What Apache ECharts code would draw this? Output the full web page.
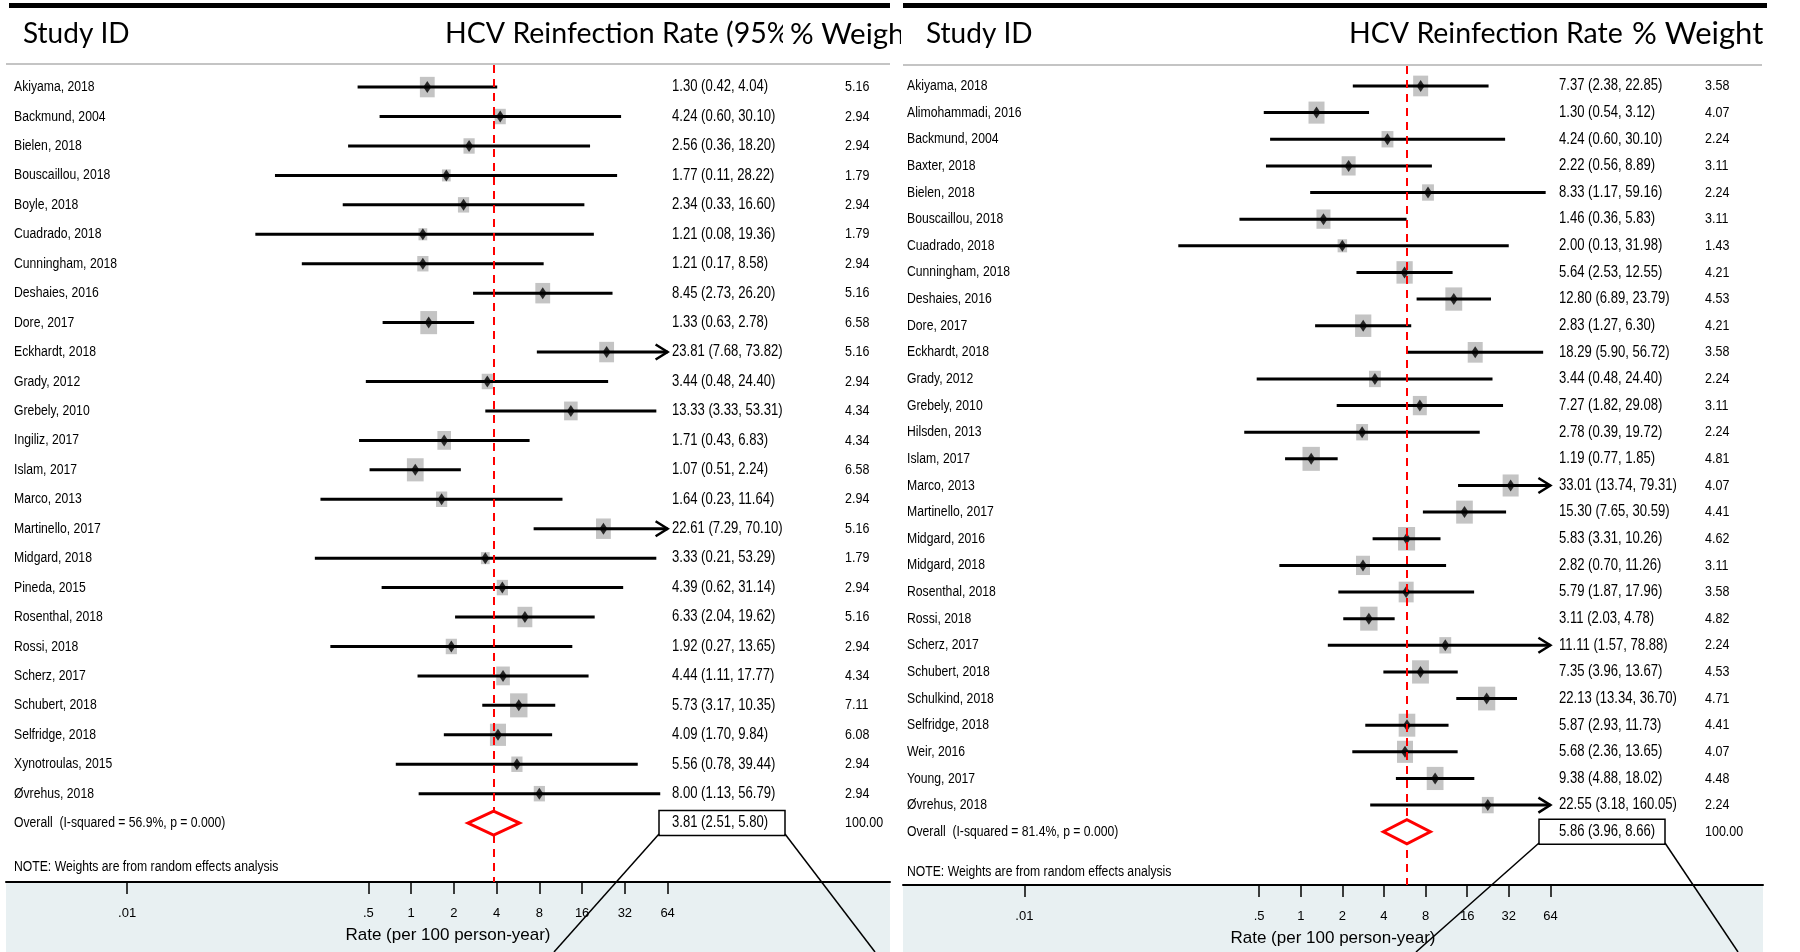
<!DOCTYPE html>
<html><head><meta charset="utf-8">
<script src="https://cdn.jsdelivr.net/npm/echarts@6/dist/echarts.min.js"></script>
<style>html,body{margin:0;padding:0;background:#fff}#c{width:1800px;height:952px}</style>
</head><body><div id="c"></div>
<script>
// ---------- Panel A data ----------
const studiesA = ['Akiyama, 2018','Backmund, 2004','Bielen, 2018','Bouscaillou, 2018','Boyle, 2018','Cuadrado, 2018','Cunningham, 2018','Deshaies, 2016','Dore, 2017','Eckhardt, 2018','Grady, 2012','Grebely, 2010','Ingiliz, 2017','Islam, 2017','Marco, 2013','Martinello, 2017','Midgard, 2018','Pineda, 2015','Rosenthal, 2018','Rossi, 2018','Scherz, 2017','Schubert, 2018','Selfridge, 2018','Xynotroulas, 2015','Øvrehus, 2018'];
const rateA   = [1.30,4.24,2.56,1.77,2.34,1.21,1.21,8.45,1.33,23.81,3.44,13.33,1.71,1.07,1.64,22.61,3.33,4.39,6.33,1.92,4.44,5.73,4.09,5.56,8.00];
const lowerA  = [0.42,0.60,0.36,0.11,0.33,0.08,0.17,2.73,0.63,7.68,0.48,3.33,0.43,0.51,0.23,7.29,0.21,0.62,2.04,0.27,1.11,3.17,1.70,0.78,1.13];
const upperA  = [4.04,30.10,18.20,28.22,16.60,19.36,8.58,26.20,2.78,73.82,24.40,53.31,6.83,2.24,11.64,70.10,53.29,31.14,19.62,13.65,17.77,10.35,9.84,39.44,56.79];
const weightA = [5.16,2.94,2.94,1.79,2.94,1.79,2.94,5.16,6.58,5.16,2.94,4.34,4.34,6.58,2.94,5.16,1.79,2.94,5.16,2.94,4.34,7.11,6.08,2.94,2.94];
const overallLabelA = 'Overall  (I-squared = 56.9%, p = 0.000)';
const overallA = [3.81, 2.51, 5.80];

// ---------- Panel B data ----------
const studiesB = ['Akiyama, 2018','Alimohammadi, 2016','Backmund, 2004','Baxter, 2018','Bielen, 2018','Bouscaillou, 2018','Cuadrado, 2018','Cunningham, 2018','Deshaies, 2016','Dore, 2017','Eckhardt, 2018','Grady, 2012','Grebely, 2010','Hilsden, 2013','Islam, 2017','Marco, 2013','Martinello, 2017','Midgard, 2016','Midgard, 2018','Rosenthal, 2018','Rossi, 2018','Scherz, 2017','Schubert, 2018','Schulkind, 2018','Selfridge, 2018','Weir, 2016','Young, 2017','Øvrehus, 2018'];
const rateB   = [7.37,1.30,4.24,2.22,8.33,1.46,2.00,5.64,12.80,2.83,18.29,3.44,7.27,2.78,1.19,33.01,15.30,5.83,2.82,5.79,3.11,11.11,7.35,22.13,5.87,5.68,9.38,22.55];
const lowerB  = [2.38,0.54,0.60,0.56,1.17,0.36,0.13,2.53,6.89,1.27,5.90,0.48,1.82,0.39,0.77,13.74,7.65,3.31,0.70,1.87,2.03,1.57,3.96,13.34,2.93,2.36,4.88,3.18];
const upperB  = [22.85,3.12,30.10,8.89,59.16,5.83,31.98,12.55,23.79,6.30,56.72,24.40,29.08,19.72,1.85,79.31,30.59,10.26,11.26,17.96,4.78,78.88,13.67,36.70,11.73,13.65,18.02,160.05];
const weightB = [3.58,4.07,2.24,3.11,2.24,3.11,1.43,4.21,4.53,4.21,3.58,2.24,3.11,2.24,4.81,4.07,4.41,4.62,3.11,3.58,4.82,2.24,4.53,4.71,4.41,4.07,4.48,2.24];
const overallLabelB = 'Overall  (I-squared = 81.4%, p = 0.000)';
const overallB = [5.86, 3.96, 8.66];

// ---------- axis ----------
const tickValues = [0.01, 0.5, 1, 2, 4, 8, 16, 32, 64];
const tickLabels = ['.01', '.5', '1', '2', '4', '8', '16', '32', '64'];
const ciCap = 64;
const headerStudy = 'Study ID';
const headerEst = 'HCV Reinfection Rate (95% CI)';
const headerWeight = '% Weight';
const noteText = 'NOTE: Weights are from random effects analysis';
const axisTitle = 'Rate (per 100 person-year)';

const L2 = Math.log2;
const tickPos = tickValues.map(L2);
const FONT = "'Liberation Sans', Arial, sans-serif";
const HFONT = "Lato, 'Open Sans', sans-serif";
const fmt = v => v.toFixed(2);

const panels = [
  {studies: studiesA, rate: rateA, lower: lowerA, upper: upperA, weight: weightA, oLabel: overallLabelA, overall: overallA,
   grid: {left: 6, top: 65, width: 884, height: 817}, xMin: -9.476, xMax: 11.202, yMax: 27,
   labelX: 8, estX: 666, wX: 839, boxX: 653},
  {studies: studiesB, rate: rateB, lower: lowerB, upper: upperB, weight: weightB, oLabel: overallLabelB, overall: overallB,
   grid: {left: 903, top: 66, width: 860, height: 821}, xMin: -9.56, xMax: 11.11, yMax: 30,
   labelX: 4, estX: 656, wX: 802, boxX: 636}
];

function labelFor(v) {
  for (let i = 0; i < tickPos.length; i++) if (Math.abs(tickPos[i] - v) < 1e-6) return tickLabels[i];
  return '';
}

const grids = [], xAxes = [], yAxes = [], series = [];
const SQ_MAX = 17.4, SQ_RATIO = 1.38;

panels.forEach((p, g) => {
  grids.push(Object.assign({containLabel: false}, p.grid));
  xAxes.push({
    type: 'value', gridIndex: g, min: p.xMin, max: p.xMax, position: 'bottom', z: 3,
    axisLine: {show: true, onZero: false, lineStyle: {color: '#000', width: 2}},
    axisTick: {show: true, customValues: tickPos, length: 12, lineStyle: {color: '#000', width: 1.5}},
    axisLabel: {customValues: tickPos, formatter: labelFor, margin: 25, fontSize: 13, color: '#000', fontFamily: FONT},
    splitLine: {show: false},
    name: axisTitle, nameLocation: 'middle', nameGap: 45,
    nameTextStyle: {fontSize: 17, color: '#000', fontFamily: FONT}
  });
  yAxes.push({type: 'value', gridIndex: g, min: -0.75, max: p.yMax, inverse: true, show: false});

  const n = p.studies.length;
  const maxW = Math.max(...p.weight);

  // weight squares
  series.push({
    type: 'scatter', xAxisIndex: g, yAxisIndex: g, z: 2, silent: true,
    symbol: 'rect',
    symbolSize: v => { const s = SQ_MAX * Math.sqrt(v[2] / maxW); return [s, s * SQ_RATIO]; },
    itemStyle: {color: '#b5b5b5'},
    data: p.rate.map((r, i) => [L2(r), i, p.weight[i]])
  });
  // CI lines
  series.push({
    type: 'custom', xAxisIndex: g, yAxisIndex: g, z: 3, silent: true,
    encode: {x: [0, 1], y: 2},
    data: p.lower.map((lo, i) => [L2(lo), L2(p.upper[i]), i]),
    renderItem(params, api) {
      const lo = api.value(0), hi = api.value(1), idx = api.value(2);
      const capped = hi > L2(ciCap);
      const a = api.coord([lo, idx]);
      const b = api.coord([capped ? L2(ciCap) : hi, idx]);
      const children = [{type: 'line', shape: {x1: a[0], y1: a[1], x2: b[0], y2: b[1]}, style: {stroke: '#000', lineWidth: 3}}];
      if (capped) children.push({type: 'polyline', shape: {points: [[b[0] - 12, b[1] - 7.5], [b[0], b[1]], [b[0] - 12, b[1] + 7.5]]}, style: {stroke: '#000', lineWidth: 2.5, fill: null}});
      return {type: 'group', children};
    }
  });
  // point estimates + overall reference line
  series.push({
    type: 'scatter', xAxisIndex: g, yAxisIndex: g, z: 4, silent: true,
    symbol: 'diamond', symbolSize: [8, 12], itemStyle: {color: '#000'},
    data: p.rate.map((r, i) => [L2(r), i]),
    markLine: {
      silent: true, symbol: ['none', 'none'], label: {show: false},
      lineStyle: {color: '#ff0000', width: 2, type: [8, 6]},
      data: [{xAxis: L2(p.overall[0])}]
    }
  });
  // overall diamond
  series.push({
    type: 'custom', xAxisIndex: g, yAxisIndex: g, z: 5, silent: true,
    encode: {x: [0, 1, 2], y: 3},
    data: [[L2(p.overall[1]), L2(p.overall[2]), L2(p.overall[0]), n]],
    renderItem(params, api) {
      const lo = api.coord([api.value(0), api.value(3)]);
      const hi = api.coord([api.value(1), api.value(3)]);
      const c = api.coord([api.value(2), api.value(3)]);
      const h = 12;
      return {type: 'polygon', shape: {points: [lo, [c[0], c[1] - h], hi, [c[0], c[1] + h]]},
        style: {fill: '#fff', stroke: '#ff0000', lineWidth: 3}};
    }
  });
  // text columns
  const rows = p.studies.map((s, i) => ({name: s, est: fmt(p.rate[i]) + ' (' + fmt(p.lower[i]) + ', ' + fmt(p.upper[i]) + ')', w: fmt(p.weight[i])}));
  rows.push({name: p.oLabel, est: fmt(p.overall[0]) + ' (' + fmt(p.overall[1]) + ', ' + fmt(p.overall[2]) + ')', w: '100.00', box: true});
  rows.push({name: noteText, est: '', w: ''});
  const rowY = rows.map((r, i) => i < n + 1 ? i : n + 1.5);
  series.push({
    type: 'custom', xAxisIndex: g, yAxisIndex: g, z: 6, silent: true,
    encode: {x: 0, y: 1},
    data: rows.map((r, i) => [0, rowY[i]]),
    renderItem(params, api) {
      const r = rows[params.dataIndex];
      const y = api.coord([0, api.value(1)])[1];
      const gx = params.coordSys.x;
      const t = (x, s, fs) => ({type: 'text', x: x, y: y, scaleY: 1.2,
        style: {text: s, fontSize: fs, fontFamily: FONT, fill: '#000', verticalAlign: 'middle', align: 'left'}});
      const children = [t(gx + p.labelX, r.name, 12.2)];
      if (r.est) children.push(t(gx + p.estX, r.est, 13.1));
      if (r.w) children.push(t(gx + p.wX, r.w, 12.5));
      if (r.box) children.push({type: 'rect', shape: {x: gx + p.boxX, y: y - 12.5, width: 126, height: 25},
        style: {fill: null, stroke: '#000', lineWidth: 1.5}});
      return {type: 'group', children};
    }
  });
});

// decorative frame elements
const hText = (x, s, z, fs) => ({type: 'text', x: x, y: 34, z: z, style: {text: s, fontSize: fs, fontFamily: HFONT, fill: '#000', verticalAlign: 'middle'}});
const graphic = [
  {type: 'rect', z: 0, shape: {x: 6, y: 881, width: 884, height: 71}, style: {fill: '#e8f0f2'}},
  {type: 'rect', z: 0, shape: {x: 903, y: 885, width: 860, height: 67}, style: {fill: '#e8f0f2'}},
  {type: 'rect', z: 1, shape: {x: 9, y: 3, width: 881, height: 5}, style: {fill: '#000'}},
  {type: 'rect', z: 1, shape: {x: 903, y: 3, width: 864, height: 5}, style: {fill: '#000'}},
  {type: 'line', z: 1, shape: {x1: 6, y1: 64, x2: 890, y2: 64}, style: {stroke: '#c4c4c4', lineWidth: 2}},
  {type: 'line', z: 1, shape: {x1: 903, y1: 65, x2: 1762, y2: 65}, style: {stroke: '#c4c4c4', lineWidth: 2}},
  hText(23, headerStudy, 5, 28), hText(445, headerEst, 5, 28.5),
  {type: 'rect', z: 6, shape: {x: 783, y: 14, width: 110, height: 44}, style: {fill: '#fff'}},
  hText(790, headerWeight, 7, 29.5),
  hText(926, headerStudy, 5, 28), hText(1349, headerEst, 5, 28.5),
  {type: 'rect', z: 6, shape: {x: 1626, y: 14, width: 174, height: 44}, style: {fill: '#fff'}},
  hText(1632, headerWeight, 7, 31),
  {type: 'rect', z: 8, shape: {x: 901, y: 10, width: 22, height: 50}, style: {fill: '#fff'}},
  {type: 'line', z: 100, shape: {x1: 659, y1: 834, x2: 554, y2: 952}, style: {stroke: '#000', lineWidth: 1.5}},
  {type: 'line', z: 100, shape: {x1: 785, y1: 834, x2: 875, y2: 952}, style: {stroke: '#000', lineWidth: 1.5}},
  {type: 'line', z: 100, shape: {x1: 1539, y1: 843, x2: 1416, y2: 952}, style: {stroke: '#000', lineWidth: 1.5}},
  {type: 'line', z: 100, shape: {x1: 1665, y1: 843, x2: 1738, y2: 952}, style: {stroke: '#000', lineWidth: 1.5}}
];

const chart = echarts.init(document.getElementById('c'), null, {renderer: 'canvas'});
chart.setOption({
  animation: false, backgroundColor: '#fff',
  grid: grids, xAxis: xAxes, yAxis: yAxes, series: series, graphic: graphic
});
</script></body></html>
